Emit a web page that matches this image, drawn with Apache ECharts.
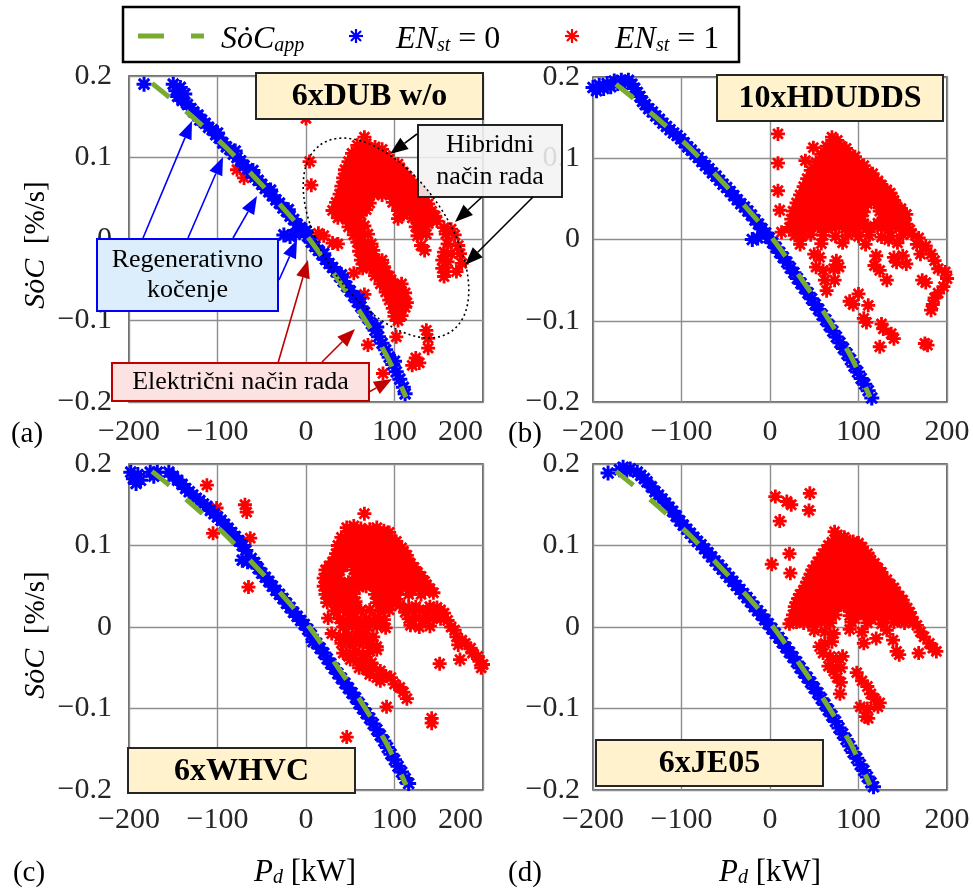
<!DOCTYPE html>
<html><head><meta charset="utf-8">
<script src="https://cdn.jsdelivr.net/npm/echarts@6/dist/echarts.min.js"></script>
<style>html,body{margin:0;padding:0;background:#fff}#c{width:973px;height:893px}</style>
</head><body><div id="c"></div>
<script>
// ---------- DATA ----------
const panelNames = ['6xDUB w/o', '10xHDUDDS', '6xWHVC', '6xJE05'];
const panelLetters = ['(a)', '(b)', '(c)', '(d)'];
const xTickRange = [-200, 200, 100];
const yTickRange = [-0.2, 0.2, 0.1];

// SoC_app approximation (green dashed line)
const socApp = [[-174,0.191],[-150,0.170],[-120,0.142],[-90,0.112],[-60,0.078],[-30,0.043],[0,0.005],[30,-0.040],[60,-0.088],[90,-0.141],[113,-0.194]];

// Panel (a) EN_st = 0
const blueA = [[-183,0.190],[-150,0.190],[-147,0.182],[-145,0.175],[-142,0.186],[-140,0.170],[-137,0.178],[-134,0.165],[-130,0.160],[-127,0.156],[-122,0.152],[-118,0.146],[-114,0.142],[-110,0.137],[-106,0.134],[-102,0.128],[-98,0.124],[-94,0.118],[-90,0.113],[-86,0.110],[-82,0.104],[-78,0.100],[-74,0.096],[-70,0.090],[-66,0.086],[-62,0.081],[-58,0.076],[-54,0.072],[-50,0.067],[-46,0.062],[-42,0.058],[-38,0.053],[-34,0.048],[-30,0.044],[-26,0.038],[-22,0.034],[-18,0.028],[-14,0.024],[-10,0.018],[-6,0.014],[-2,0.008],[2,0.003],[-25,0.005],[-18,0.003],[-12,0.006],[6,-0.004],[10,-0.009],[14,-0.014],[18,-0.019],[22,-0.025],[26,-0.030],[30,-0.035],[34,-0.040],[38,-0.046],[42,-0.052],[46,-0.058],[50,-0.064],[54,-0.070],[58,-0.077],[62,-0.083],[66,-0.090],[70,-0.097],[74,-0.104],[78,-0.112],[82,-0.120],[86,-0.128],[90,-0.136],[94,-0.145],[98,-0.154],[102,-0.163],[106,-0.172],[110,-0.182],[112,-0.190],
[-120,0.146],[-100,0.130],[-80,0.108],[-60,0.084],[-40,0.060],[-20,0.036],[0,0.010],[20,-0.018],[40,-0.044],[60,-0.073],[80,-0.108],[100,-0.150]];
// Panel (a) EN_st = 1
const redA = [[66,.125],[58,.115],[68,.117],[78,.113],[86,.110],[52,.105],[60,.105],[70,.106],[80,.104],[90,.102],
[48,.095],[56,.096],[66,.095],[76,.094],[86,.095],[96,.093],[104,.092],
[44,.085],[52,.085],[62,.086],[72,.085],[82,.084],[92,.085],[102,.083],[110,.082],
[42,.075],[50,.075],[60,.076],[70,.074],[80,.075],[90,.074],[100,.076],[110,.073],[118,.072],
[40,.065],[48,.064],[58,.066],[68,.065],[78,.064],[88,.065],[98,.066],[108,.064],[118,.063],[126,.062],
[38,.055],[46,.055],[56,.054],[66,.056],[76,.055],[86,.054],[96,.055],[106,.056],[116,.054],[126,.055],[134,.053],
[34,.045],[42,.044],[52,.046],[62,.045],[72,.044],[98,.045],[108,.046],[118,.044],[128,.045],[138,.043],
[30,.035],[38,.036],[48,.034],[58,.035],[68,.036],[104,.035],[114,.034],[124,.036],[134,.035],[142,.034],
[36,.026],[46,.024],[56,.025],[104,.025],[120,.026],[132,.024],[142,.025],[148,.022],
[48,.015],[58,.014],[66,.016],[124,.015],[132,.013],[156,.014],[164,.012],
[14,.007],[20,.004],[54,.005],[62,.004],[70,.006],[126,.004],[136,.006],[158,.006],[168,.005],
[30,-.005],[36,-.006],[58,-.004],[66,-.005],[74,-.006],[130,-.008],[160,-.006],[172,-.008],
[60,-.015],[68,-.016],[76,-.014],[134,-.014],[156,-.016],[164,-.018],[174,-.018],
[62,-.026],[70,-.025],[78,-.024],[86,-.026],[154,-.026],[160,-.028],
[64,-.036],[72,-.035],[80,-.036],[88,-.034],[154,-.036],[158,-.040],
[54,-.042],[78,-.045],[86,-.044],[94,-.046],[156,-.046],
[84,-.055],[92,-.054],[100,-.056],[108,-.055],
[66,-.068],[90,-.065],[98,-.066],[106,-.064],[112,-.066],
[94,-.075],[102,-.076],[110,-.074],[114,-.078],
[98,-.085],[106,-.086],[112,-.084],[100,-.095],[108,-.094],
[104,-.100],[102,-.120],[136,-.112],[138,-.122],[138,-.134],[124,-.146],[128,-.152],[120,-.155],
[4,.095],[6,.066],[0,.148],[-78,.085],[-70,.075],[87,-.165],[70,-.130],[176,-.030],[170,-.040]];
const redACore = [[62,.110],[72,.111],[82,.108],
[56,.100],[64,.100],[74,.100],[84,.099],[94,.098],
[50,.090],[60,.090],[70,.089],[80,.090],[90,.089],[100,.088],[106,.087],
[46,.080],[56,.080],[66,.079],[76,.080],[86,.079],[96,.080],[106,.078],[114,.077],
[44,.070],[54,.069],[64,.070],[74,.069],[84,.070],[94,.069],[104,.070],[114,.068],[122,.067],
[42,.060],[52,.060],[62,.059],[72,.060],[82,.059],[92,.060],[102,.059],[112,.060],[122,.058],[130,.057],
[40,.050],[50,.050],[60,.049],[70,.050],[102,.050],[112,.049],[122,.050],[132,.048],
[36,.040],[46,.040],[56,.039],[66,.040],[108,.040],[118,.039],[128,.040],[138,.038],
[42,.030],[52,.030],[62,.030],[110,.030],[126,.030],[138,.029],[146,.028],
[52,.020],[62,.019],[128,.020],[138,.019],[60,.009],[128,.009],[62,-.010],[70,-.010],[66,-.020],[74,-.020],
[68,-.030],[76,-.030],[84,-.030],[82,-.040],[90,-.040],[88,-.050],[96,-.050],[94,-.060],[102,-.060],[98,-.070],[106,-.070],[102,-.080],[108,-.080]];

// Panel (b)
const blueB = [[-200,0.187],[-196,0.183],[-193,0.190],[-188,0.186],[-184,0.192],[-180,0.188],[-176,0.195],[-172,0.192],[-168,0.196],[-164,0.193],[-160,0.196],[-156,0.191],[-153,0.186],[-150,0.181],[-147,0.176],[-144,0.170],[-141,0.166],[-137,0.161],
[-133,0.157],[-129,0.152],[-125,0.148],[-121,0.143],[-117,0.139],[-113,0.135],[-109,0.131],[-105,0.128],[-101,0.124],[-97,0.119],[-93,0.114],[-89,0.110],[-85,0.105],[-81,0.101],[-77,0.096],[-73,0.091],[-69,0.087],[-65,0.082],[-61,0.078],[-57,0.073],[-53,0.068],[-49,0.064],[-45,0.059],[-41,0.054],[-37,0.049],[-33,0.044],[-29,0.040],[-25,0.035],[-21,0.030],[-17,0.024],[-13,0.019],[-9,0.013],[-5,0.008],[-1,0.002],[-20,0.000],[-14,0.002],
[3,-0.004],[7,-0.010],[11,-0.016],[15,-0.022],[19,-0.028],[23,-0.035],[27,-0.041],[31,-0.048],[35,-0.054],[39,-0.060],[43,-0.066],[47,-0.073],[51,-0.080],[55,-0.086],[59,-0.093],[63,-0.099],[67,-0.106],[71,-0.113],[75,-0.120],[79,-0.127],[83,-0.134],[87,-0.141],[91,-0.148],[95,-0.156],[99,-0.163],[103,-0.171],[107,-0.178],[111,-0.186],[115,-0.195]];
const redB = [[70,.126],[76,.122],[64,.115],[72,.116],[80,.115],[86,.112],[49,.113],
[58,.105],[66,.106],[74,.105],[82,.106],[90,.104],[96,.102],[40,.097],
[52,.095],[60,.096],[68,.095],[76,.094],[84,.096],[92,.095],[100,.093],[106,.091],
[46,.085],[54,.084],[62,.086],[70,.085],[78,.084],[86,.085],[94,.086],[102,.084],[110,.083],[116,.081],
[42,.075],[50,.076],[58,.074],[66,.075],[74,.076],[82,.074],[90,.075],[98,.076],[106,.074],[114,.075],[122,.072],
[38,.065],[46,.064],[54,.066],[62,.065],[70,.064],[78,.066],[86,.065],[94,.064],[102,.066],[110,.065],[118,.064],[126,.063],[132,.061],
[34,.055],[42,.056],[50,.054],[58,.055],[66,.056],[74,.054],[82,.055],[90,.056],[98,.054],[106,.055],[114,.056],[122,.054],[130,.055],[138,.052],
[30,.045],[38,.044],[46,.046],[54,.045],[62,.044],[70,.046],[78,.045],[86,.044],[94,.046],[102,.045],[110,.044],[118,.046],[126,.045],[134,.044],[142,.043],
[26,.035],[34,.036],[42,.034],[50,.035],[58,.036],[66,.034],[74,.035],[82,.036],[90,.034],[98,.035],[106,.034],[124,.035],[132,.036],[140,.034],[148,.035],[154,.031],
[24,.025],[32,.024],[40,.026],[48,.025],[56,.024],[64,.026],[72,.025],[80,.024],[88,.026],[96,.025],[104,.024],[128,.025],[136,.026],[144,.024],[152,.025],
[22,.015],[30,.016],[38,.014],[46,.015],[54,.016],[62,.014],[70,.015],[78,.016],[86,.014],[94,.015],[102,.016],[110,.014],[118,.016],[126,.015],[134,.014],[142,.016],[150,.015],[158,.012],
[28,.005],[36,.004],[46,.006],[60,.005],[74,.004],[88,.006],[100,.004],[112,.005],[126,.003],[136,.004],[150,.006],[160,.007],[168,.002],
[34,-.006],[58,-.005],[82,-.004],[108,-.006],[134,.000],[144,-.004],[166,-.006],[176,-.008],
[50,-.018],[56,-.022],[75,-.026],[120,-.020],[140,-.022],[150,-.020],[170,-.018],[182,-.018],[186,-.026],
[52,-.034],[60,-.038],[72,-.036],[78,-.034],[118,-.032],[124,-.038],[143,-.028],[154,-.030],[190,-.036],[198,-.040],
[62,-.050],[73,-.050],[132,-.050],[172,-.050],[176,-.053],[200,-.048],[196,-.058],
[64,-.063],[100,-.067],[190,-.066],[186,-.072],
[90,-.076],[94,-.080],[111,-.081],[182,-.087],[184,-.080],
[106,-.097],[109,-.102],[126,-.104],[128,-.110],
[137,-.116],[140,-.122],[124,-.132],[175,-.128],[178,-.130],
[9,.130],[9,.094],[9,.060],[11,.036],[13,.009]];
const redBCore = [[68,.110],[76,.111],[84,.109],
[62,.100],[70,.101],[78,.100],[86,.099],[94,.098],
[56,.090],[64,.090],[72,.089],[80,.090],[88,.091],[96,.089],[104,.087],
[50,.080],[58,.079],[66,.080],[74,.081],[82,.079],[90,.080],[98,.081],[106,.079],[114,.078],
[46,.070],[54,.069],[62,.070],[70,.071],[78,.069],[86,.070],[94,.071],[102,.069],[110,.070],[118,.069],[126,.067],
[42,.060],[50,.059],[58,.060],[66,.061],[74,.059],[82,.060],[90,.061],[98,.059],[106,.060],[114,.061],[122,.059],[130,.058],[136,.057],
[38,.050],[46,.049],[54,.050],[62,.051],[70,.049],[78,.050],[86,.051],[94,.049],[102,.050],[110,.051],[118,.049],[126,.050],[134,.049],[140,.048],
[34,.040],[42,.039],[50,.040],[58,.041],[66,.039],[74,.040],[82,.041],[90,.039],[98,.040],[106,.041],[124,.040],[132,.039],[140,.040],[148,.038],
[30,.030],[38,.029],[46,.030],[54,.031],[62,.029],[70,.030],[78,.031],[86,.029],[94,.030],[102,.031],[132,.030],[140,.029],[148,.030],
[26,.020],[34,.019],[42,.020],[50,.021],[58,.019],[66,.020],[74,.021],[82,.019],[90,.020],[98,.021],[106,.019],[122,.020],[130,.021],[138,.019],[146,.020],[154,.019]];

// Panel (c)
const blueC = [[-198,0.190],[-195,0.182],[-192,0.176],[-190,0.187],[-187,0.180],[-176,0.190],[-172,0.185],[-168,0.190],[-155,0.190],[-150,0.185],[-145,0.180],[-140,0.175],[-136,0.170],[-132,0.166],[-128,0.162],[-124,0.158],[-120,0.155],[-116,0.151],[-112,0.148],[-108,0.143],[-104,0.139],[-100,0.135],[-96,0.131],[-92,0.126],[-88,0.121],[-84,0.116],[-80,0.111],[-76,0.106],[-72,0.100],[-68,0.094],[-72,0.082],[-66,0.080],[-62,0.084],[-58,0.079],[-54,0.072],[-50,0.066],[-46,0.061],[-42,0.056],[-38,0.050],[-34,0.045],[-30,0.040],[-26,0.035],[-22,0.029],[-18,0.024],[-14,0.018],[-10,0.013],[-6,0.008],[-2,0.003],[2,-0.003],[6,-0.010],[8,-0.018],[12,-0.020],[16,-0.026],[20,-0.032],[24,-0.039],[28,-0.045],[32,-0.051],[36,-0.057],[40,-0.063],[44,-0.069],[48,-0.075],[52,-0.081],[56,-0.087],[60,-0.094],[64,-0.100],[68,-0.106],[72,-0.112],[76,-0.119],[80,-0.126],[84,-0.133],[88,-0.140],[92,-0.148],[96,-0.156],[100,-0.163],[104,-0.171],[108,-0.178],[112,-0.186],[116,-0.192]];
const redC = [[66,.139],
[46,.122],[54,.124],[62,.121],[72,.120],[80,.122],[88,.118],[94,.116],
[40,.110],[48,.111],[56,.109],[64,.110],[72,.111],[80,.109],[88,.110],[96,.108],[102,.105],
[36,.100],[44,.101],[52,.099],[60,.100],[68,.101],[76,.099],[84,.100],[92,.101],[100,.099],[108,.097],
[34,.090],[42,.091],[50,.089],[58,.090],[66,.091],[74,.089],[82,.090],[90,.091],[98,.089],[106,.090],[114,.088],
[30,.080],[38,.081],[46,.079],[54,.080],[62,.081],[70,.079],[78,.080],[86,.081],[94,.079],[102,.080],[110,.081],[118,.078],
[22,.070],[30,.071],[38,.069],[54,.070],[62,.071],[70,.069],[78,.070],[86,.071],[94,.069],[102,.070],[110,.071],[118,.069],[126,.067],
[20,.060],[28,.061],[36,.059],[56,.060],[64,.061],[72,.059],[80,.060],[88,.061],[96,.059],[104,.060],[112,.061],[120,.059],[128,.058],[134,.056],
[20,.050],[28,.051],[36,.049],[44,.050],[52,.051],[60,.049],[68,.050],[76,.051],[84,.049],[92,.050],[100,.051],[108,.049],[116,.050],[124,.051],[132,.049],[140,.047],
[22,.040],[30,.041],[38,.039],[46,.040],[54,.041],[78,.040],[86,.041],[94,.039],[102,.040],[116,.040],[130,.040],[144,.042],
[24,.030],[32,.031],[40,.029],[48,.030],[56,.031],[80,.030],[90,.031],[98,.029],[106,.027],
[32,.020],[42,.021],[52,.019],[62,.020],[72,.021],[84,.019],[94,.021],[112,.018],[120,.020],[128,.021],[136,.019],[144,.020],[152,.021],[156,.017],
[25,.011],[38,.010],[48,.011],[58,.009],[68,.010],[78,.011],[88,.009],[116,.010],[124,.011],[134,.009],[144,.011],[152,.010],[160,.008],
[42,.000],[52,.001],[60,-.001],[70,.000],[80,.001],[90,-.001],[118,.002],[128,.000],[140,.001],[164,.000],[168,-.004],
[29,-.008],[38,-.012],[48,-.010],[58,-.011],[66,-.009],[76,-.012],[170,-.012],[176,-.016],
[40,-.020],[50,-.022],[60,-.020],[70,-.021],[80,-.024],[172,-.022],[180,-.020],[186,-.026],
[42,-.032],[48,-.036],[56,-.030],[64,-.034],[72,-.030],[80,-.028],[188,-.032],[194,-.036],
[50,-.040],[58,-.042],[66,-.040],[74,-.044],[174,-.040],[196,-.042],[200,-.046],[198,-.050],[151,-.045],
[60,-.050],[68,-.052],[76,-.050],[84,-.054],
[72,-.058],[80,-.062],[90,-.060],[96,-.062],[84,-.066],
[100,-.070],[106,-.074],[110,-.080],[114,-.088],
[91,-.098],[142,-.112],[142,-.118],[46,-.135],[-112,.174],[-101,.146],[-69,.150],[-67,.141],[-105,.115],[-63,.109],[-65,.049]];
const redCCore = [[50,.117],[58,.116],[66,.117],[76,.116],[84,.115],
[44,.105],[52,.105],[60,.104],[68,.105],[76,.106],[84,.104],[92,.105],[100,.103],
[38,.095],[46,.095],[54,.094],[62,.095],[70,.096],[78,.094],[86,.095],[94,.096],[102,.094],[110,.093],
[34,.085],[42,.085],[50,.084],[58,.085],[66,.086],[74,.084],[82,.085],[90,.086],[98,.084],[106,.085],[114,.084],
[26,.075],[34,.075],[42,.074],[58,.075],[66,.076],[74,.074],[82,.075],[90,.076],[98,.074],[106,.075],[114,.076],[122,.073],
[24,.065],[32,.065],[60,.065],[68,.066],[76,.064],[84,.065],[92,.066],[100,.064],[108,.065],[116,.066],[124,.063],[130,.062],
[24,.055],[32,.055],[40,.054],[48,.055],[56,.056],[64,.054],[72,.055],[80,.056],[88,.054],[96,.055],[104,.056],[112,.054],[120,.055],[128,.054],[136,.052],
[26,.045],[34,.045],[42,.044],[50,.045],[82,.045],[90,.046],[98,.044],[106,.045],[120,.045],[134,.044],
[28,.035],[36,.035],[44,.034],[52,.035],[84,.035],[94,.036],[102,.034],
[36,.025],[46,.025],[56,.024],[88,.025],[116,.024],[124,.025],[140,.025],[148,.024],
[42,.005],[52,.005],[62,.004],[72,.005],[82,.006],[44,-.015],[54,-.016],[64,-.015],[74,-.016]];

// Panel (d)
const blueD = [[-183,0.189],[-170,0.193],[-166,0.196],[-162,0.192],[-158,0.194],[-150,0.190],[-146,0.186],[-142,0.182],[-139,0.178],[-134,0.172],[-130,0.166],[-126,0.162],[-122,0.157],[-118,0.152],[-114,0.147],[-110,0.142],[-106,0.136],[-102,0.130],[-98,0.125],[-94,0.120],[-90,0.115],[-86,0.110],[-82,0.105],[-78,0.101],[-74,0.096],[-70,0.091],[-66,0.086],[-62,0.081],[-58,0.076],[-54,0.071],[-50,0.066],[-46,0.061],[-42,0.056],[-38,0.051],[-34,0.046],[-30,0.041],[-26,0.036],[-22,0.031],[-18,0.025],[-14,0.020],[-10,0.015],[-6,0.009],[-2,0.004],[2,-0.002],[6,-0.008],[10,-0.013],[14,-0.019],[18,-0.025],[22,-0.031],[26,-0.037],[30,-0.043],[34,-0.050],[38,-0.056],[42,-0.062],[46,-0.068],[50,-0.075],[54,-0.081],[58,-0.088],[62,-0.095],[66,-0.102],[70,-0.109],[74,-0.116],[78,-0.124],[82,-0.131],[86,-0.138],[90,-0.146],[94,-0.154],[98,-0.161],[102,-0.169],[106,-0.176],[110,-0.184],[114,-0.191],[117,-0.196]];
const redD = [[6,.160],[19,.154],[24,.150],[45,.164],[44,.143],[11,.130],[22,.090],[2,.077],[23,.066],
[73,.117],[80,.110],
[70,.104],[78,.106],[86,.107],[94,.105],[100,.103],
[64,.095],[72,.096],[80,.094],[88,.095],[96,.096],[104,.093],[110,.090],
[58,.085],[66,.086],[74,.084],[82,.085],[90,.086],[98,.084],[106,.085],[114,.082],
[52,.075],[60,.074],[68,.076],[76,.075],[84,.074],[92,.076],[100,.075],[108,.074],[116,.075],[122,.072],
[46,.065],[54,.066],[62,.064],[70,.065],[78,.066],[86,.064],[94,.065],[102,.066],[110,.064],[118,.065],[126,.063],
[42,.055],[50,.054],[58,.056],[66,.055],[74,.054],[82,.056],[90,.055],[98,.054],[106,.056],[114,.055],[122,.054],[130,.055],[136,.052],
[38,.045],[46,.046],[54,.044],[62,.045],[70,.046],[78,.044],[86,.045],[94,.046],[102,.044],[110,.045],[118,.046],[126,.044],[134,.045],[142,.043],
[32,.035],[40,.034],[48,.036],[56,.035],[64,.034],[72,.036],[80,.035],[88,.034],[96,.036],[104,.035],[112,.034],[120,.036],[128,.035],[136,.034],[144,.036],[150,.033],
[28,.025],[36,.026],[44,.024],[52,.025],[60,.026],[68,.024],[76,.025],[84,.026],[92,.024],[100,.025],[108,.026],[116,.024],[124,.025],[132,.026],[140,.024],[148,.025],[155,.023],
[26,.015],[34,.014],[42,.016],[50,.015],[58,.014],[66,.016],[74,.015],[90,.014],[98,.016],[106,.015],[114,.014],[122,.016],[130,.015],[138,.014],[146,.016],[154,.015],[160,.012],
[22,.004],[30,.006],[38,.005],[48,.004],[58,.006],[68,.005],[92,.006],[110,.005],[126,.004],[140,.006],[152,.005],[162,.006],[166,.002],
[50,-.004],[62,-.006],[72,-.008],[90,-.003],[104,-.006],[132,-.004],[170,-.006],[174,-.012],
[56,-.024],[62,-.020],[70,-.018],[106,-.020],[120,-.014],[139,-.016],[180,-.020],[184,-.026],
[60,-.032],[68,-.036],[75,-.040],[82,-.036],[146,-.034],[143,-.030],[168,-.032],[188,-.030],
[66,-.048],[72,-.054],[80,-.050],[98,-.056],
[76,-.062],[80,-.068],[104,-.066],[110,-.073],
[79,-.082],[114,-.082],[118,-.088],[124,-.093],
[102,-.098],[110,-.100],[122,-.098],[108,-.110],[111,-.112]];
const redDCore = [[76,.113],[84,.110],
[66,.100],[74,.101],[82,.100],[90,.101],[98,.099],[104,.098],
[60,.090],[68,.091],[76,.089],[84,.090],[92,.091],[100,.089],[108,.088],[112,.086],
[54,.080],[62,.081],[70,.079],[78,.080],[86,.081],[94,.079],[102,.080],[110,.081],[118,.078],
[48,.070],[56,.070],[64,.071],[72,.069],[80,.070],[88,.071],[96,.069],[104,.070],[112,.071],[120,.069],[126,.067],
[44,.060],[52,.060],[60,.059],[68,.061],[76,.060],[84,.059],[92,.061],[100,.060],[108,.059],[116,.061],[124,.059],[132,.058],
[40,.050],[48,.050],[56,.049],[64,.051],[72,.050],[80,.049],[88,.051],[96,.050],[104,.049],[112,.051],[120,.050],[128,.049],[136,.048],[140,.048],
[34,.040],[42,.040],[50,.039],[58,.041],[66,.040],[74,.039],[82,.041],[90,.040],[98,.039],[106,.041],[114,.040],[122,.039],[130,.041],[138,.040],[146,.038],
[30,.030],[38,.030],[46,.029],[54,.031],[62,.030],[70,.029],[78,.031],[86,.030],[94,.029],[102,.031],[110,.030],[118,.029],[126,.031],[134,.030],[142,.029],[150,.029],
[30,.020],[38,.020],[46,.019],[54,.021],[62,.020],[70,.019],[94,.021],[102,.020],[110,.019],[118,.021],[126,.020],[134,.019],[142,.021],[150,.020],[158,.018],
[26,.010],[34,.010],[44,.009],[54,.011],[64,.010],[96,.010],[114,.011],[130,.010],[146,.009],[158,.010]];

const redSets = [redA.concat(redACore), redB.concat(redBCore), redC.concat(redCCore), redD.concat(redDCore)];
const blueSets = [blueA, blueB, blueC, blueD];

// ---------- LAYOUT / STYLE ----------
const FONT = 'Liberation Serif';
const ASTER = 'path://M0 8L20 8L20 12L0 12Z M8 0L12 0L12 20L8 20Z M4.41 1.59L18.41 15.59L15.59 18.41L1.59 4.41Z M15.59 1.59L18.41 4.41L4.41 18.41L1.59 15.59Z';
const grids = [
  {left:129, top:76, width:354, height:326},
  {left:593, top:77, width:354, height:325},
  {left:129, top:464, width:354, height:326},
  {left:593, top:464, width:354, height:326}
];
const yMargins = [17, 13, 17, 13];
const fmt = v => (v < 0 ? '\u2212' : '') + String(parseFloat(Math.abs(v).toFixed(3)));

const chart = echarts.init(document.getElementById('c'), null, {renderer:'canvas'});

const xAxes = grids.map((g, i) => ({
  gridIndex:i, type:'value', min:xTickRange[0], max:xTickRange[1], interval:xTickRange[2],
  axisLine:{show:false}, axisTick:{show:false},
  axisLabel:{fontFamily:FONT, fontSize:30, color:'#262626', margin:15, formatter:fmt,
    alignMaxLabel: (i % 2 === 0) ? 'right' : 'center'},
  splitLine:{show:true, lineStyle:{color:'#8e8e8e', width:1.4}}
}));
const yAxes = grids.map((g, i) => ({
  gridIndex:i, type:'value', min:yTickRange[0], max:yTickRange[1], interval:yTickRange[2],
  axisLine:{show:false}, axisTick:{show:false},
  axisLabel:{fontFamily:FONT, fontSize:30, color:'#262626', margin:yMargins[i], formatter:fmt},
  splitLine:{show:true, lineStyle:{color:'#8e8e8e', width:1.4}}
}));

const series = [];
for (let i = 0; i < 4; i++) {
  series.push({type:'scatter', name:'EN_st = 1', xAxisIndex:i, yAxisIndex:i, data:redSets[i],
    symbol:ASTER, symbolSize:14, itemStyle:{color:'#ff0000', opacity:1}, clip:false, silent:true, z:2});
  series.push({type:'scatter', name:'EN_st = 0', xAxisIndex:i, yAxisIndex:i, data:blueSets[i],
    symbol:ASTER, symbolSize:15, itemStyle:{color:'#0000ff', opacity:1}, clip:false, silent:true, z:3});
  series.push({type:'line', name:'SoC_app', xAxisIndex:i, yAxisIndex:i, data:socApp, smooth:0.3,
    showSymbol:false, symbol:'none', silent:true, z:4,
    lineStyle:{color:'#77ac30', width:5, type:[22,22]}});
}

// ---------- GRAPHICS (annotations) ----------
const G = [];
function txt(x, y, text, rich, align) {
  return {type:'text', z:120, x:x, y:y,
    style:{text:text, rich:rich, fontFamily:FONT, align:align || 'center', verticalAlign:'middle'}};
}
function rect(x, y, w, h, fill, stroke, lw) {
  return {type:'rect', z:110, shape:{x:x, y:y, width:w, height:h}, style:{fill:fill, stroke:stroke, lineWidth:lw}};
}
function arrow(x1, y1, x2, y2, color) {
  const dx = x2 - x1, dy = y2 - y1, L = Math.hypot(dx, dy), ux = dx / L, uy = dy / L;
  const hl = 18, hw = 7, bx = x2 - ux * hl, by = y2 - uy * hl;
  G.push({type:'line', z:115, shape:{x1:x1, y1:y1, x2:bx, y2:by}, style:{stroke:color, lineWidth:1.6}});
  G.push({type:'polygon', z:115, shape:{points:[[x2, y2], [bx - uy * hw, by + ux * hw], [bx + uy * hw, by - ux * hw]]}, style:{fill:color}});
}
function aster(cx, cy, s, color) {
  const r = s / 2, d = r * 0.72;
  [[-r,0,r,0],[0,-r,0,r],[-d,-d,d,d],[-d,d,d,-d]].forEach(a =>
    G.push({type:'line', z:120, shape:{x1:cx + a[0], y1:cy + a[1], x2:cx + a[2], y2:cy + a[3]}, style:{stroke:color, lineWidth:2.2}}));
}

// legend
G.push(rect(123, 7, 616, 55, '#ffffff', '#000000', 2.5));
G.push({type:'line', z:120, shape:{x1:138, y1:36, x2:204, y2:36}, style:{stroke:'#77ac30', lineWidth:5, lineDash:[26,27]}});
const R = {
  i:{fontFamily:FONT, fontStyle:'italic', fontSize:32, lineHeight:38, verticalAlign:'bottom', color:'#000'},
  n:{fontFamily:FONT, fontSize:32, lineHeight:38, verticalAlign:'bottom', color:'#000'},
  s:{fontFamily:FONT, fontStyle:'italic', fontSize:20, lineHeight:16, verticalAlign:'bottom', color:'#000'},
  sb:{fontFamily:FONT, fontStyle:'italic', fontSize:20, lineHeight:16, verticalAlign:'bottom', color:'#3a3a9a'}
};
G.push(txt(221, 37, '{i|S\u022FC}{s|app}', R, 'left'));
aster(356, 36, 14, '#0000ff');
G.push(txt(396, 37, '{i|EN}{sb|st}{n| = 0}', R, 'left'));
aster(572, 36, 14, '#ff0000');
G.push(txt(615, 37, '{i|EN}{sb|st}{n| = 1}', R, 'left'));

// panel title boxes
const TB = {b:{fontFamily:FONT, fontWeight:'bold', fontSize:32, color:'#000'}};
const titleBoxes = [[256,73,227,46],[717,75,226,46],[128,748,227,45],[596,740,227,46]];
titleBoxes.forEach((b, i) => {
  G.push(rect(b[0], b[1], b[2], b[3], '#fff2cc', '#262626', 2));
  G.push(txt(b[0] + b[2] / 2, b[1] + b[3] / 2 + 1, '{b|' + panelNames[i] + '}', TB));
});

// panel letters
const PL = {n:{fontFamily:FONT, fontSize:29, color:'#000'}};
[[27,434],[525,434],[29,873],[525,873]].forEach((p, i) => G.push(txt(p[0], p[1], '{n|' + panelLetters[i] + '}', PL)));

// y-axis names
const YR = {i:{fontFamily:FONT, fontStyle:'italic', fontSize:30, color:'#000'}, n:{fontFamily:FONT, fontSize:29, color:'#000'}};
[[36,245],[36,635]].forEach(p => G.push({type:'text', z:120, x:p[0], y:p[1], rotation:Math.PI / 2,
  style:{text:'{i|S\u022FC}{n|  [%/s]}', rich:YR, align:'center', verticalAlign:'middle'}}));
// x-axis names
const XR = {i:{fontFamily:FONT, fontStyle:'italic', fontSize:31, lineHeight:36, verticalAlign:'bottom', color:'#000'},
  s:{fontFamily:FONT, fontStyle:'italic', fontSize:20, lineHeight:15, verticalAlign:'bottom', color:'#3a3a9a'},
  n:{fontFamily:FONT, fontSize:31, lineHeight:36, verticalAlign:'bottom', color:'#000'}};
[[305,870],[770,870]].forEach(p => G.push(txt(p[0], p[1], '{i|P}{s|d}{n| [kW]}', XR)));

// panel (a) annotations
G.push({type:'ellipse', z:112, x:386, y:238, rotation:-55 * Math.PI / 180, shape:{cx:0, cy:0, rx:114, ry:62},
  style:{fill:'none', stroke:'#000', lineWidth:1.6, lineDash:[2,3]}});
arrow(143, 238, 192, 121, '#0000ff');
arrow(188, 238, 223, 157, '#0000ff');
arrow(233, 238, 257, 196, '#0000ff');
arrow(279, 280, 297, 240, '#0000ff');
arrow(278, 363, 308, 260, '#c00000');
arrow(322, 362, 355, 329, '#c00000');
arrow(369, 392, 392, 379, '#c00000');
arrow(417, 134, 390, 154, '#000000');
arrow(482, 197, 455, 222, '#000000');
arrow(533, 197, 465, 265, '#000000');

G.push(rect(97, 239, 181, 72, '#dcedfb', '#0000ff', 2));
const BR = {n:{fontFamily:FONT, fontSize:26, color:'#0000ee', lineHeight:30}};
G.push(txt(187.5, 275, '{n|Regenerativno}\n{n|kočenje}', BR));
G.push(rect(112, 363, 257, 38, '#fde2e2', '#c00000', 2));
G.push(txt(240.5, 382, '{n|Električni način rada}', {n:{fontFamily:FONT, fontSize:26, color:'#dd0000'}}));
G.push(rect(418, 125, 144, 72, 'rgba(242,242,242,0.88)', '#222222', 2));
G.push(txt(490, 161, '{n|Hibridni}\n{n|način rada}', {n:{fontFamily:FONT, fontSize:26, color:'#000', lineHeight:32}}));

chart.setOption({
  animation:false,
  backgroundColor:'#ffffff',
  grid: grids.map(g => Object.assign({show:true, borderColor:'#3a3a3a', borderWidth:1.5, backgroundColor:'transparent'}, g)),
  xAxis: xAxes,
  yAxis: yAxes,
  series: series,
  graphic: {elements: G}
});
</script></body></html>
